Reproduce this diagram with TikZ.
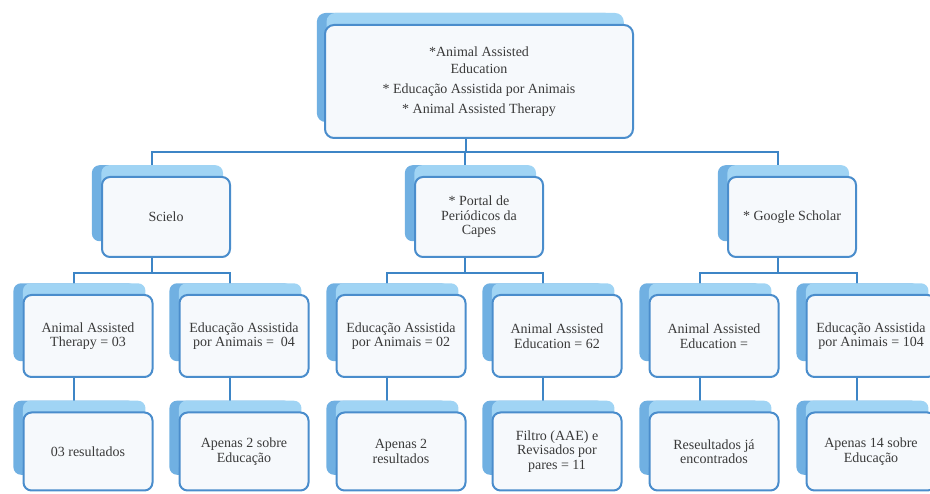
\documentclass[tikz,border=0pt]{standalone}
\usepackage{fontspec}
\setmainfont{Liberation Serif}
\usetikzlibrary{shadows,backgrounds}
\definecolor{boxline}{RGB}{74,141,204}
\definecolor{boxfill}{RGB}{246,249,252}
\definecolor{bevdark}{RGB}{112,176,226}
\definecolor{bevlight}{RGB}{160,212,244}
\definecolor{linkblue}{RGB}{61,133,198}
\definecolor{txt}{RGB}{58,58,58}

\begin{document}
\begin{tikzpicture}[x=1pt,y=-1pt,node distance=115.5pt,
    lift/.style={general shadow={shadow scale=#1, shadow xshift=-14pt, shadow yshift=14.5pt, fill=bevdark, draw=none},
                 general shadow={shadow scale=#1, shadow xshift=-4pt, shadow yshift=14.5pt, fill=bevlight, draw=none}},
    lift/.default=0.95,
    main/.style={lift, draw=boxline, line width=2pt, fill=boxfill, rounded corners=8pt, text=txt, align=center,
                 minimum width=129pt, minimum height=82pt, inner sep=2pt, font=\fontsize{14}{14.5}\selectfont},
    big/.style={lift=0.965, draw=boxline, line width=2pt, fill=boxfill, rounded corners=9pt, text=txt, align=center,
                 minimum width=308pt, minimum height=113pt, font=\fontsize{14}{17}\selectfont},
    elbow/.style={to path={-- ++(0,#1) -| (\tikztotarget)}}]
                \useasboundingbox (0,0) rectangle (930,494);
                \clip (0,0) rectangle (930,494);
                \node[big] (1) at (479,81.5) {*Animal Assisted\\Education\\[3pt]* Educação Assistida por Animais\\[3pt]* Animal Assisted Therapy};
                \node[main, minimum width=128pt, minimum height=80pt] (2) at (166,217) {Scielo};
                \node[main, minimum width=128pt, minimum height=80pt] (3) at (479,217) {* Portal de\\Periódicos da\\Capes};
                \node[main, minimum width=128pt, minimum height=80pt] (4) at (792,217) {* Google Scholar};
                \node[main] (5) at (88,336) {Animal Assisted\\Therapy = 03};
                \node[main] (6) at (244,336) {Educação Assistida\\por Animais = \ 04};
                \node[main] (7) at (401,336) {Educação Assistida\\por Animais = 02};
                \node[main] (8) at (557,336) {Animal Assisted\\Education = 62};
                \node[main] (9) at (714,336) {Animal Assisted\\Education = };
                \node[main] (10) at (871,336) {Educação Assistida\\por Animais = 104};
                \node[main, minimum height=78pt] (11) [below of=5] {03 resultados};
                \node[main, minimum height=78pt] (12) [below of=6] {Apenas 2 sobre\\Educação};
                \node[main, minimum height=78pt] (13) [below of=7] {Apenas 2\\resultados};
                \node[main, minimum height=78pt] (14) [below of=8] {Filtro (AAE) e\\Revisados por\\pares = 11};
                \node[main, minimum height=78pt] (15) [below of=9] {Reseultados já\\encontrados};
                \node[main, minimum height=78pt] (16) [below of=10] {Apenas 14 sobre\\Educação};
                \begin{scope}[on background layer]
                \path[line width=2pt,{color=linkblue}]
                    ([xshift=-13pt]1.south) edge[elbow=13] ([xshift=-14pt]2.north)
                    ([xshift=-13pt]1.south) edge[elbow=13] ([xshift=-14pt]3.north)
                    ([xshift=-13pt]1.south) edge[elbow=13] ([xshift=-14pt]4.north)
                    ([xshift=-14pt]2.south) edge[elbow=15] ([xshift=-14pt]5.north)
                    ([xshift=-14pt]2.south) edge[elbow=15] ([xshift=-14pt]6.north)
                    ([xshift=-14pt]3.south) edge[elbow=15] ([xshift=-14pt]7.north)
                    ([xshift=-14pt]3.south) edge[elbow=15] ([xshift=-14pt]8.north)
                    ([xshift=-14pt]4.south) edge[elbow=15] ([xshift=-14pt]9.north)
                    ([xshift=-14pt]4.south) edge[elbow=15] ([xshift=-14pt]10.north);
                \path[line width=2pt,{color=linkblue}]
                    ([xshift=-14pt]5.south) edge ([xshift=-14pt]11.north)
                    ([xshift=-14pt]6.south) edge ([xshift=-14pt]12.north)
                    ([xshift=-14pt]7.south) edge ([xshift=-14pt]13.north)
                    ([xshift=-14pt]8.south) edge ([xshift=-14pt]14.north)
                    ([xshift=-14pt]9.south) edge ([xshift=-14pt]15.north)
                    ([xshift=-14pt]10.south) edge ([xshift=-14pt]16.north);
                \end{scope}
            \end{tikzpicture}
\end{document}
